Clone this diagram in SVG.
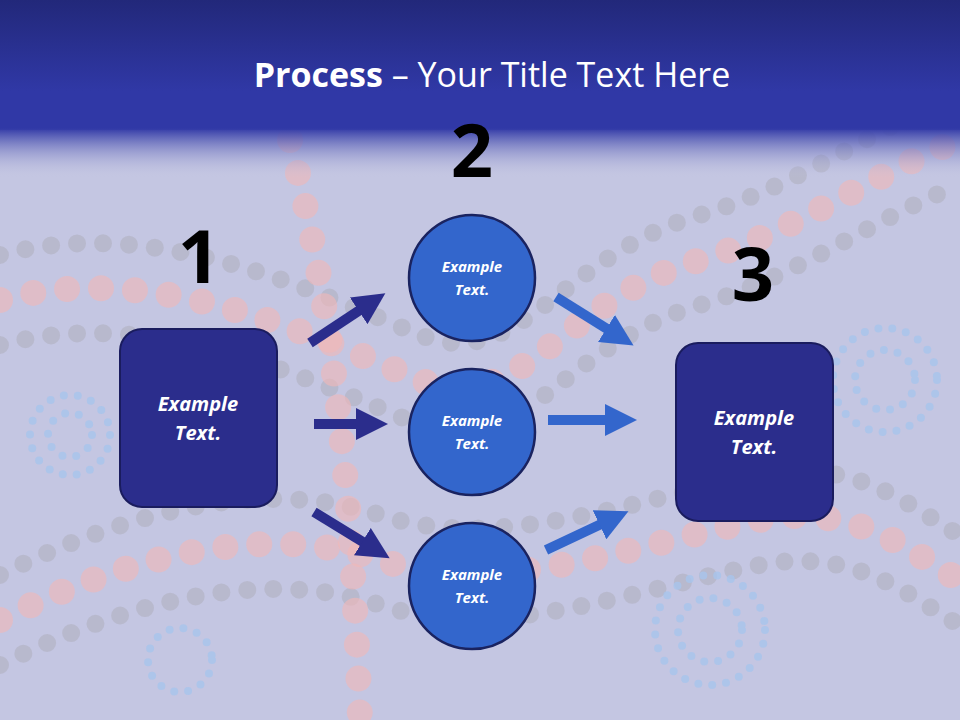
<svg xmlns="http://www.w3.org/2000/svg" width="960" height="720" viewBox="0 0 960 720">
<defs>
<linearGradient id="hdr" x1="0" y1="0" x2="0" y2="1">
<stop offset="0" stop-color="#22287a"/><stop offset="0.7" stop-color="#3038a6"/><stop offset="1" stop-color="#3038a6"/>
</linearGradient>
<linearGradient id="fade" x1="0" y1="0" x2="0" y2="1">
<stop offset="0" stop-color="#3038a6"/><stop offset="1" stop-color="#c4c6e2" stop-opacity="0"/>
</linearGradient>
<marker id="ad" viewBox="0 0 10 10" refX="5" refY="5" markerWidth="3.2" markerHeight="3.2" orient="auto"><path d="M0,0 L10,5 L0,10 z" fill="#2b2d8c"/></marker>
<marker id="al" viewBox="0 0 10 10" refX="5" refY="5" markerWidth="3.2" markerHeight="3.2" orient="auto"><path d="M0,0 L10,5 L0,10 z" fill="#3366cc"/></marker>
<style>
.dg{fill:none;stroke:#b4b4c4;stroke-linecap:round;stroke-dasharray:0 26;stroke-width:18;opacity:.7}
.dp{fill:none;stroke:#f2b8b8;stroke-linecap:round;stroke-dasharray:0 34;stroke-width:26;opacity:.6}
.db{fill:none;stroke:#a8c4ec;stroke-linecap:round;stroke-dasharray:0 14;stroke-width:8;opacity:.8}
.box{fill:#2b2d8c;stroke:#1a1c5e;stroke-width:2}
.cir{fill:#3366cc;stroke:#1a2360;stroke-width:2.5}
.t{font-family:"Open Sans","Liberation Sans",sans-serif;font-weight:bold;font-style:italic;fill:#fff;text-anchor:middle}
.n{font-family:"Open Sans","Liberation Sans",sans-serif;font-weight:bold;fill:#000;font-size:74px;text-anchor:middle}
.ard{stroke:#2b2d8c;stroke-width:10;marker-end:url(#ad)}
.arl{stroke:#3366cc;stroke-width:10;marker-end:url(#al)}
</style>
</defs>
<rect width="960" height="720" fill="#c4c6e2"/>
<g id="background">
<path class="dp" d="M0,300 C150,260 300,330 420,380 C520,420 560,300 700,260 C800,230 880,170 960,140"/>
<path class="dg" d="M0,255 C150,215 300,285 420,335 C520,375 560,255 700,215 C800,185 880,125 960,95"/>
<path class="dg" d="M0,345 C150,305 300,375 420,425 C520,465 560,345 700,305 C800,275 880,215 960,185"/>
<path class="dp" d="M0,620 C120,560 260,520 380,560 C500,600 650,540 760,520 C860,500 920,560 960,580"/>
<path class="dg" d="M0,575 C120,515 260,475 380,515 C500,555 650,495 760,475 C860,455 920,515 960,535"/>
<path class="dg" d="M0,665 C120,605 260,565 380,605 C500,645 650,585 760,565 C860,545 920,605 960,625"/>
<path class="dp" d="M290,140 C320,260 350,420 360,720"/>
<circle class="db" cx="70" cy="435" r="40"/><circle class="db" cx="70" cy="435" r="22"/>
<circle class="db" cx="885" cy="380" r="52"/><circle class="db" cx="885" cy="380" r="30"/>
<circle class="db" cx="710" cy="630" r="55"/><circle class="db" cx="710" cy="630" r="32"/>
<circle class="db" cx="180" cy="660" r="32"/>
</g>
<rect width="960" height="130" fill="url(#hdr)"/>
<rect y="128" width="960" height="50" fill="url(#fade)"/>
<text x="492" y="87" text-anchor="middle" font-family="Open Sans,Liberation Sans,sans-serif" font-size="34" fill="#fff"><tspan font-weight="bold">Process</tspan> – Your Title Text Here</text>
<text class="n" x="199" y="283">1</text>
<text class="n" x="472" y="177">2</text>
<text class="n" x="753" y="301">3</text>
<g id="connectors">
<line class="ard" x1="310" y1="343" x2="372" y2="302"/>
<line class="ard" x1="314" y1="424" x2="372" y2="424"/>
<line class="ard" x1="314" y1="512" x2="376" y2="550"/>
<line class="arl" x1="556" y1="297" x2="620" y2="337"/>
<line class="arl" x1="548" y1="420" x2="621" y2="420"/>
<line class="arl" x1="546" y1="550" x2="614" y2="518"/>
</g>
<g id="node1"><rect class="box" x="120" y="329" width="157" height="178" rx="22"/>
<text class="t" font-size="20" x="198" y="411">Example</text><text class="t" font-size="20" x="198" y="440">Text.</text></g>
<g id="node3"><rect class="box" x="676" y="343" width="157" height="178" rx="22"/>
<text class="t" font-size="20" x="754" y="425">Example</text><text class="t" font-size="20" x="754" y="454">Text.</text></g>
<g id="node2a"><circle class="cir" cx="472" cy="278" r="63"/>
<text class="t" font-size="15" x="472" y="272">Example</text><text class="t" font-size="15" x="472" y="295">Text.</text></g>
<g id="node2b"><circle class="cir" cx="472" cy="432" r="63"/>
<text class="t" font-size="15" x="472" y="426">Example</text><text class="t" font-size="15" x="472" y="449">Text.</text></g>
<g id="node2c"><circle class="cir" cx="472" cy="586" r="63"/>
<text class="t" font-size="15" x="472" y="580">Example</text><text class="t" font-size="15" x="472" y="603">Text.</text></g>
</svg>
